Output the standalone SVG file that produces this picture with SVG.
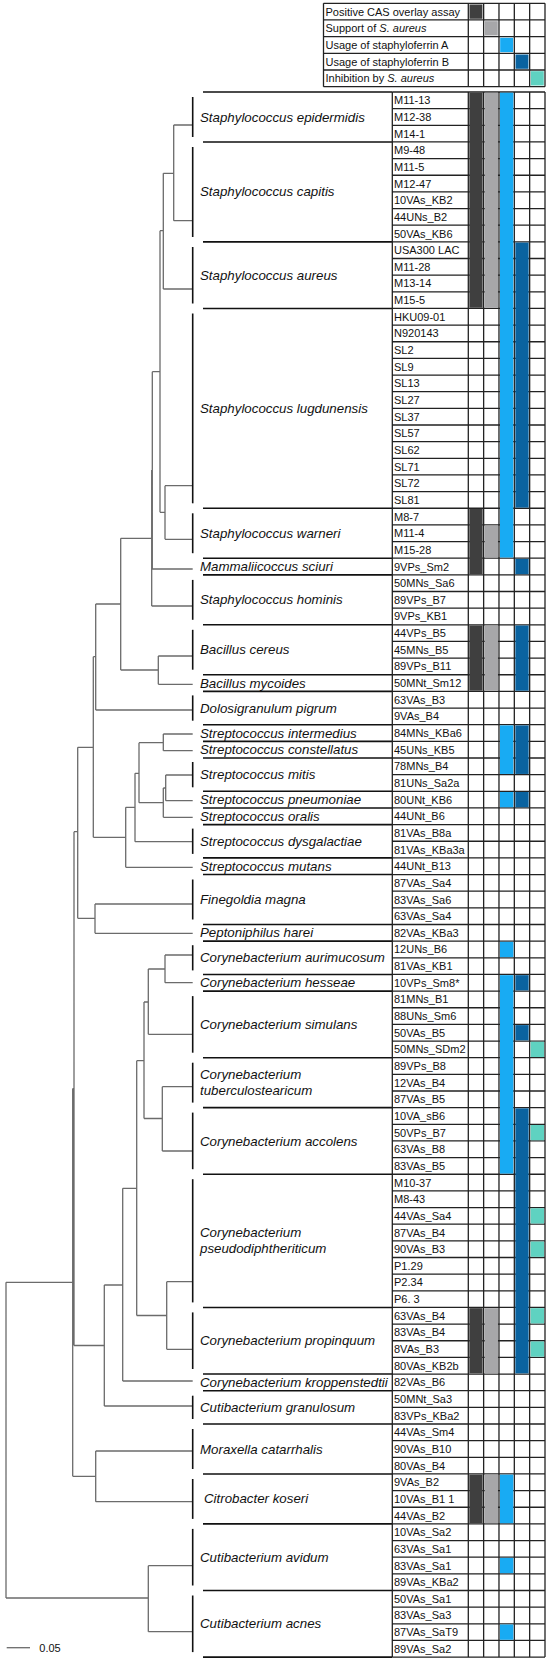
<svg xmlns="http://www.w3.org/2000/svg" width="552" height="1663" viewBox="0 0 552 1663">
<style>
.sp{font-family:"Liberation Sans",Arial,sans-serif;font-style:italic;font-size:13.3px;fill:#111}
.st{font-family:"Liberation Sans",Arial,sans-serif;font-size:11px;fill:#111}
.lg{font-family:"Liberation Sans",Arial,sans-serif;font-size:11px;fill:#111}
.it{font-style:italic}
.tree{stroke:#6b6b6b;stroke-width:1.3;fill:none}
.br{stroke:#111;stroke-width:1.6;fill:none}
.grid{stroke:#222;stroke-width:1.3;fill:none}
.c0{fill:#3f3f3f}.c1{fill:#a7a7a9}.c2{fill:#18abf3}.c3{fill:#0a63a0}.c4{fill:#5fd2c1}
</style>
<rect width="552" height="1663" fill="#fff"/>

<g id="legend">
<path class="grid" d="M323.5 3.3H545M323.5 19.97H545M323.5 36.64H545M323.5 53.31H545M323.5 69.98H545M323.5 86.65H545M323.5 3.3V86.65M468.3 3.3V86.65M483.64 3.3V86.65M498.98 3.3V86.65M514.32 3.3V86.65M529.66 3.3V86.65M545 3.3V86.65"/>
<rect class="c0" x="469.5" y="4.5" width="12.9" height="14.27"/>
<rect class="c1" x="484.84" y="21.17" width="12.9" height="14.27"/>
<rect class="c2" x="500.18" y="37.84" width="12.9" height="14.27"/>
<rect class="c3" x="515.52" y="54.51" width="12.9" height="14.27"/>
<rect class="c4" x="530.86" y="71.18" width="12.9" height="14.27"/>
<text class="lg" x="325.5" y="15.6">Positive CAS overlay assay</text>
<text class="lg" x="325.5" y="32.3">Support of <tspan class="it">S. aureus</tspan></text>
<text class="lg" x="325.5" y="49">Usage of staphyloferrin A</text>
<text class="lg" x="325.5" y="65.6">Usage of staphyloferrin B</text>
<text class="lg" x="325.5" y="82.3">Inhibition by <tspan class="it">S. aureus</tspan></text>
</g>

<g id="connectors">
<path class="tree" d="M173.7 125V220.7M173.7 125H192.7M173.7 220.7H192.7M163.3 173.3H173.7
M163.3 173.3V289M163.3 289H192.7M160 230.7H163.3
M165 485.7V539.3M165 485.7H192.7M165 539.3H192.7M160 512.3H165
M160 230.7V512.3M152.3 371.7H160
M152.3 371.7V569M152.3 569H192.7M151.7 470H152.3
M151.7 470V606M151.7 606H192.7M120.7 538.3H151.7
M158.3 656V684.3M158.3 656H192.7M158.3 684.3H192.7M120.7 670H158.3
M120.7 538.3V670M95.7 604H120.7
M95.7 604V710M95.7 710H192.7M93.3 656.7H95.7
M163.3 734V750.7M163.3 734H192.7M163.3 750.7H192.7M139 742.7H163.3
M165.7 775V800.7M165.7 775H192.7M165.7 800.7H192.7M163.3 788H165.7
M163.3 788V817.3M163.3 817.3H192.7M139 802.7H163.3
M139 742.7V802.7M135 773.3H139
M135 773.3V841.7M135 841.7H192.7M125.7 807.3H135
M125.7 807.3V867.3M125.7 867.3H192.7M93.3 837.3H125.7
M93.3 656.7V837.3M77.7 747.3H93.3
M95 904V933.3M95 904H192.7M95 933.3H192.7M77.7 918.3H95
M77.7 747.3V918.3M74 831.7H77.7
M165 955V982.7M165 955H192.7M165 982.7H192.7M148.3 969H165
M148.3 969V1034.3M148.3 1034.3H192.7M144 1002H148.3
M162.3 1086.7V1151M162.3 1086.7H192.7M162.3 1151H192.7M144 1118.5H162.3
M144 1002V1118.5M136.7 1060.7H144
M166.7 1281.7V1349.3M166.7 1281.7H192.7M166.7 1349.3H192.7M136.7 1315.5H166.7
M136.7 1060.7V1315.5M122.7 1188.3H136.7
M122.7 1188.3V1381M122.7 1381H192.7M104.3 1285H122.7
M104.3 1285V1406M104.3 1406H192.7M74 1345.5H104.3
M74 831.7V1345.5M72.7 1088.6H74
M95.7 1451V1501.7M95.7 1451H192.7M95.7 1501.7H192.7M72.7 1476.3H95.7
M72.7 1088.6V1476.3M6 1282.3H72.7
M148.3 1565.7V1631.7M148.3 1565.7H192.7M148.3 1631.7H192.7M6 1598H148.3
M6 1282.3V1598"/>
</g>

<g id="scale-bar">
<path class="tree" d="M6.7 1647.7H30"/>
<text class="st" x="39.3" y="1651.5">0.05</text>
</g>

<g id="separators">
<path class="br" d="M203 92H392.3M203 141.95H392.3M203 241.85H392.3M203 308.45H392.3M203 508.25H392.3M203 558.2H392.3M203 574.85H392.3M203 624.8H392.3M203 674.75H392.3M203 691.4H392.3M203 724.7H392.3M203 741.35H392.3M203 758H392.3M203 791.3H392.3M203 807.95H392.3M203 824.6H392.3M203 857.9H392.3M203 874.55H392.3M203 924.5H392.3M203 941.15H392.3M203 974.45H392.3M203 991.1H392.3M203 1057.7H392.3M203 1107.65H392.3M203 1174.25H392.3M203 1307.45H392.3M203 1374.05H392.3M203 1390.7H392.3M203 1424H392.3M203 1473.95H392.3M203 1523.9H392.3M203 1590.5H392.3M203 1657.1H392.3"/>
</g>

<g id="sp-epidermidis"><path class="br" d="M192.7 97V137"/><text class="sp" x="200" y="121.5">Staphylococcus epidermidis</text></g>
<g id="sp-capitis"><path class="br" d="M192.7 147V237"/><text class="sp" x="200" y="196.4">Staphylococcus capitis</text></g>
<g id="sp-aureus"><path class="br" d="M192.7 247V303.5"/><text class="sp" x="200" y="279.7">Staphylococcus aureus</text></g>
<g id="sp-lugdunensis"><path class="br" d="M192.7 313.5V503.3"/><text class="sp" x="200" y="412.8">Staphylococcus lugdunensis</text></g>
<g id="sp-warneri"><path class="br" d="M192.7 513.3V553.2"/><text class="sp" x="200" y="537.7">Staphylococcus warneri</text></g>
<g id="sp-sciuri"><text class="sp" x="200" y="571">Mammaliicoccus sciuri</text></g>
<g id="sp-hominis"><path class="br" d="M192.7 579.9V619.8"/><text class="sp" x="200" y="604.3">Staphylococcus hominis</text></g>
<g id="sp-cereus"><path class="br" d="M192.7 629.8V669.7"/><text class="sp" x="200" y="654.3">Bacillus cereus</text></g>
<g id="sp-mycoides"><text class="sp" x="200" y="687.5">Bacillus mycoides</text></g>
<g id="sp-pigrum"><path class="br" d="M192.7 695.4V720.7"/><text class="sp" x="200" y="712.5">Dolosigranulum pigrum</text></g>
<g id="sp-intermedius"><text class="sp" x="200" y="737.5">Streptococcus intermedius</text></g>
<g id="sp-constellatus"><text class="sp" x="200" y="754.2">Streptococcus constellatus</text></g>
<g id="sp-mitis"><path class="br" d="M192.7 762V787.3"/><text class="sp" x="200" y="779.1">Streptococcus mitis</text></g>
<g id="sp-pneumoniae"><text class="sp" x="200" y="804.1">Streptococcus pneumoniae</text></g>
<g id="sp-oralis"><text class="sp" x="200" y="820.8">Streptococcus oralis</text></g>
<g id="sp-dysgalactiae"><path class="br" d="M192.7 828.6V853.9"/><text class="sp" x="200" y="845.7">Streptococcus dysgalactiae</text></g>
<g id="sp-mutans"><text class="sp" x="200" y="870.7">Streptococcus mutans</text></g>
<g id="sp-finegoldia"><path class="br" d="M192.7 879.5V919.5"/><text class="sp" x="200" y="904">Finegoldia magna</text></g>
<g id="sp-peptoniphilus"><text class="sp" x="200" y="937.3">Peptoniphilus harei</text></g>
<g id="sp-aurimucosum"><path class="br" d="M192.7 945.2V970.4"/><text class="sp" x="200" y="962.3">Corynebacterium aurimucosum</text></g>
<g id="sp-hesseae"><text class="sp" x="200" y="987.3">Corynebacterium hesseae</text></g>
<g id="sp-simulans"><path class="br" d="M192.7 996.1V1052.7"/><text class="sp" x="200" y="1028.9">Corynebacterium simulans</text></g>
<g id="sp-tuberculostearicum"><path class="br" d="M192.7 1062.7V1102.6"/><text class="sp" x="200" y="1079.3">Corynebacterium</text><text class="sp" x="200" y="1095">tuberculostearicum</text></g>
<g id="sp-accolens"><path class="br" d="M192.7 1112.6V1169.2"/><text class="sp" x="200" y="1145.5">Corynebacterium accolens</text></g>
<g id="sp-pseudodiphtheriticum"><path class="br" d="M192.7 1179.2V1302.4"/><text class="sp" x="200" y="1237.3">Corynebacterium</text><text class="sp" x="200" y="1253.3">pseudodiphtheriticum</text></g>
<g id="sp-propinquum"><path class="br" d="M192.7 1312.4V1369"/><text class="sp" x="200" y="1345.3">Corynebacterium propinquum</text></g>
<g id="sp-kroppenstedtii"><text class="sp" x="200" y="1386.9">Corynebacterium kroppenstedtii</text></g>
<g id="sp-granulosum"><path class="br" d="M192.7 1395.7V1419"/><text class="sp" x="200" y="1411.9">Cutibacterium granulosum</text></g>
<g id="sp-moraxella"><path class="br" d="M192.7 1429V1469"/><text class="sp" x="200" y="1453.5">Moraxella catarrhalis</text></g>
<g id="sp-citrobacter"><path class="br" d="M192.7 1479V1518.9"/><text class="sp" x="204" y="1503.4">Citrobacter koseri</text></g>
<g id="sp-avidum"><path class="br" d="M192.7 1528.9V1585.5"/><text class="sp" x="200" y="1561.7">Cutibacterium avidum</text></g>
<g id="sp-acnes"><path class="br" d="M192.7 1595.5V1652.1"/><text class="sp" x="200" y="1628.3">Cutibacterium acnes</text></g>

<g id="table">
<path class="grid" d="M392.3 92H545M392.3 108.65H545M392.3 125.3H545M392.3 141.95H545M392.3 158.6H545M392.3 175.25H545M392.3 191.9H545M392.3 208.55H545M392.3 225.2H545M392.3 241.85H545M392.3 258.5H545M392.3 275.15H545M392.3 291.8H545M392.3 308.45H545M392.3 325.1H545M392.3 341.75H545M392.3 358.4H545M392.3 375.05H545M392.3 391.7H545M392.3 408.35H545M392.3 425H545M392.3 441.65H545M392.3 458.3H545M392.3 474.95H545M392.3 491.6H545M392.3 508.25H545M392.3 524.9H545M392.3 541.55H545M392.3 558.2H545M392.3 574.85H545M392.3 591.5H545M392.3 608.15H545M392.3 624.8H545M392.3 641.45H545M392.3 658.1H545M392.3 674.75H545M392.3 691.4H545M392.3 708.05H545M392.3 724.7H545M392.3 741.35H545M392.3 758H545M392.3 774.65H545M392.3 791.3H545M392.3 807.95H545M392.3 824.6H545M392.3 841.25H545M392.3 857.9H545M392.3 874.55H545M392.3 891.2H545M392.3 907.85H545M392.3 924.5H545M392.3 941.15H545M392.3 957.8H545M392.3 974.45H545M392.3 991.1H545M392.3 1007.75H545M392.3 1024.4H545M392.3 1041.05H545M392.3 1057.7H545M392.3 1074.35H545M392.3 1091H545M392.3 1107.65H545M392.3 1124.3H545M392.3 1140.95H545M392.3 1157.6H545M392.3 1174.25H545M392.3 1190.9H545M392.3 1207.55H545M392.3 1224.2H545M392.3 1240.85H545M392.3 1257.5H545M392.3 1274.15H545M392.3 1290.8H545M392.3 1307.45H545M392.3 1324.1H545M392.3 1340.75H545M392.3 1357.4H545M392.3 1374.05H545M392.3 1390.7H545M392.3 1407.35H545M392.3 1424H545M392.3 1440.65H545M392.3 1457.3H545M392.3 1473.95H545M392.3 1490.6H545M392.3 1507.25H545M392.3 1523.9H545M392.3 1540.55H545M392.3 1557.2H545M392.3 1573.85H545M392.3 1590.5H545M392.3 1607.15H545M392.3 1623.8H545M392.3 1640.45H545M392.3 1657.1H545
M392.3 92V1657.1M468.3 92V1657.1M483.64 92V1657.1M498.98 92V1657.1M514.32 92V1657.1M529.66 92V1657.1M545 92V1657.1"/>
<g id="fills">
<rect class="c0" x="469.3" y="92.7" width="13.34" height="215.05"/>
<rect class="c0" x="469.3" y="508.95" width="13.34" height="65.2"/>
<rect class="c0" x="469.3" y="625.5" width="13.34" height="65.2"/>
<rect class="c0" x="469.3" y="1308.15" width="13.34" height="65.2"/>
<rect class="c0" x="469.3" y="1474.65" width="13.34" height="48.55"/>
<rect class="c1" x="484.64" y="92.7" width="13.34" height="215.05"/>
<rect class="c1" x="484.64" y="525.6" width="13.34" height="31.9"/>
<rect class="c1" x="484.64" y="625.5" width="13.34" height="65.2"/>
<rect class="c1" x="484.64" y="1308.15" width="13.34" height="65.2"/>
<rect class="c1" x="484.64" y="1474.65" width="13.34" height="48.55"/>
<rect class="c2" x="499.98" y="92.7" width="13.34" height="464.8"/>
<rect class="c2" x="499.98" y="725.4" width="13.34" height="48.55"/>
<rect class="c2" x="499.98" y="792" width="13.34" height="15.25"/>
<rect class="c2" x="499.98" y="941.85" width="13.34" height="15.25"/>
<rect class="c2" x="499.98" y="975.15" width="13.34" height="198.4"/>
<rect class="c2" x="499.98" y="1474.65" width="13.34" height="48.55"/>
<rect class="c2" x="499.98" y="1557.9" width="13.34" height="15.25"/>
<rect class="c2" x="499.98" y="1624.5" width="13.34" height="15.25"/>
<rect class="c3" x="515.32" y="242.55" width="13.34" height="265"/>
<rect class="c3" x="515.32" y="558.9" width="13.34" height="15.25"/>
<rect class="c3" x="515.32" y="625.5" width="13.34" height="65.2"/>
<rect class="c3" x="515.32" y="725.4" width="13.34" height="48.55"/>
<rect class="c3" x="515.32" y="792" width="13.34" height="15.25"/>
<rect class="c3" x="515.32" y="975.15" width="13.34" height="15.25"/>
<rect class="c3" x="515.32" y="1025.1" width="13.34" height="15.25"/>
<rect class="c3" x="515.32" y="1108.35" width="13.34" height="265"/>
<rect class="c4" x="530.66" y="1041.75" width="13.34" height="15.25"/>
<rect class="c4" x="530.66" y="1125" width="13.34" height="15.25"/>
<rect class="c4" x="530.66" y="1208.25" width="13.34" height="15.25"/>
<rect class="c4" x="530.66" y="1241.55" width="13.34" height="15.25"/>
<rect class="c4" x="530.66" y="1308.15" width="13.34" height="15.25"/>
<rect class="c4" x="530.66" y="1341.45" width="13.34" height="15.25"/>
</g>
<g id="strains" class="st">
<text x="394" y="104.3">M11-13</text>
<text x="394" y="120.95">M12-38</text>
<text x="394" y="137.6">M14-1</text>
<text x="394" y="154.25">M9-48</text>
<text x="394" y="170.9">M11-5</text>
<text x="394" y="187.55">M12-47</text>
<text x="394" y="204.2">10VAs_KB2</text>
<text x="394" y="220.85">44UNs_B2</text>
<text x="394" y="237.5">50VAs_KB6</text>
<text x="394" y="254.15">USA300 LAC</text>
<text x="394" y="270.8">M11-28</text>
<text x="394" y="287.45">M13-14</text>
<text x="394" y="304.1">M15-5</text>
<text x="394" y="320.75">HKU09-01</text>
<text x="394" y="337.4">N920143</text>
<text x="394" y="354.05">SL2</text>
<text x="394" y="370.7">SL9</text>
<text x="394" y="387.35">SL13</text>
<text x="394" y="404">SL27</text>
<text x="394" y="420.65">SL37</text>
<text x="394" y="437.3">SL57</text>
<text x="394" y="453.95">SL62</text>
<text x="394" y="470.6">SL71</text>
<text x="394" y="487.25">SL72</text>
<text x="394" y="503.9">SL81</text>
<text x="394" y="520.55">M8-7</text>
<text x="394" y="537.2">M11-4</text>
<text x="394" y="553.85">M15-28</text>
<text x="394" y="570.5">9VPs_Sm2</text>
<text x="394" y="587.15">50MNs_Sa6</text>
<text x="394" y="603.8">89VPs_B7</text>
<text x="394" y="620.45">9VPs_KB1</text>
<text x="394" y="637.1">44VPs_B5</text>
<text x="394" y="653.75">45MNs_B5</text>
<text x="394" y="670.4">89VPs_B11</text>
<text x="394" y="687.05">50MNt_Sm12</text>
<text x="394" y="703.7">63VAs_B3</text>
<text x="394" y="720.35">9VAs_B4</text>
<text x="394" y="737">84MNs_KBa6</text>
<text x="394" y="753.65">45UNs_KB5</text>
<text x="394" y="770.3">78MNs_B4</text>
<text x="394" y="786.95">81UNs_Sa2a</text>
<text x="394" y="803.6">80UNt_KB6</text>
<text x="394" y="820.25">44UNt_B6</text>
<text x="394" y="836.9">81VAs_B8a</text>
<text x="394" y="853.55">81VAs_KBa3a</text>
<text x="394" y="870.2">44UNt_B13</text>
<text x="394" y="886.85">87VAs_Sa4</text>
<text x="394" y="903.5">83VAs_Sa6</text>
<text x="394" y="920.15">63VAs_Sa4</text>
<text x="394" y="936.8">82VAs_KBa3</text>
<text x="394" y="953.45">12UNs_B6</text>
<text x="394" y="970.1">81VAs_KB1</text>
<text x="394" y="986.75">10VPs_Sm8*</text>
<text x="394" y="1003.4">81MNs_B1</text>
<text x="394" y="1020.05">88UNs_Sm6</text>
<text x="394" y="1036.7">50VAs_B5</text>
<text x="394" y="1053.35">50MNs_SDm2</text>
<text x="394" y="1070">89VPs_B8</text>
<text x="394" y="1086.65">12VAs_B4</text>
<text x="394" y="1103.3">87VAs_B5</text>
<text x="394" y="1119.95">10VA_sB6</text>
<text x="394" y="1136.6">50VPs_B7</text>
<text x="394" y="1153.25">63VAs_B8</text>
<text x="394" y="1169.9">83VAs_B5</text>
<text x="394" y="1186.55">M10-37</text>
<text x="394" y="1203.2">M8-43</text>
<text x="394" y="1219.85">44VAs_Sa4</text>
<text x="394" y="1236.5">87VAs_B4</text>
<text x="394" y="1253.15">90VAs_B3</text>
<text x="394" y="1269.8">P1.29</text>
<text x="394" y="1286.45">P2.34</text>
<text x="394" y="1303.1">P6. 3</text>
<text x="394" y="1319.75">63VAs_B4</text>
<text x="394" y="1336.4">83VAs_B4</text>
<text x="394" y="1353.05">8VAs_B3</text>
<text x="394" y="1369.7">80VAs_KB2b</text>
<text x="394" y="1386.35">82VAs_B6</text>
<text x="394" y="1403">50MNt_Sa3</text>
<text x="394" y="1419.65">83VPs_KBa2</text>
<text x="394" y="1436.3">44VAs_Sm4</text>
<text x="394" y="1452.95">90VAs_B10</text>
<text x="394" y="1469.6">80VAs_B4</text>
<text x="394" y="1486.25">9VAs_B2</text>
<text x="394" y="1502.9">10VAs_B1 1</text>
<text x="394" y="1519.55">44VAs_B2</text>
<text x="394" y="1536.2">10VAs_Sa2</text>
<text x="394" y="1552.85">63VAs_Sa1</text>
<text x="394" y="1569.5">83VAs_Sa1</text>
<text x="394" y="1586.15">89VAs_KBa2</text>
<text x="394" y="1602.8">50VAs_Sa1</text>
<text x="394" y="1619.45">83VAs_Sa3</text>
<text x="394" y="1636.1">87VAs_SaT9</text>
<text x="394" y="1652.75">89VAs_Sa2</text>
</g>
</g>
</svg>
